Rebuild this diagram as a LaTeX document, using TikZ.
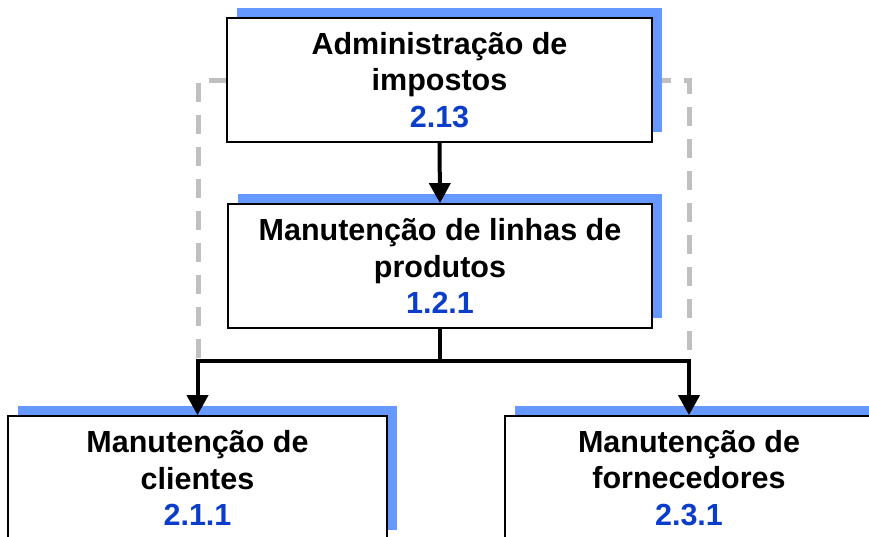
\documentclass[tikz,border=0pt]{standalone}
\usepackage{fontspec}
\setmainfont{Liberation Sans}
\usetikzlibrary{shadows,arrows.meta}
\definecolor{shadowblue}{HTML}{6699FF}
\definecolor{numblue}{HTML}{0A3DCC}
\definecolor{dashgray}{HTML}{C0C0C0}
\begin{document}
\begin{tikzpicture}[x=1pt,y=-1pt,
  box/.style={draw=black, line width=1.8pt, fill=white, align=center,
    font=\bfseries\fontsize{30.5}{36.7}\selectfont, inner sep=0pt,
    minimum height=124pt,
    general shadow={fill=shadowblue, shadow xshift=9.5pt, shadow yshift=10.5pt}},
  conn/.style={line width=4pt, -{Triangle[length=20pt,width=21pt]}},
  plainconn/.style={line width=4pt},
  dashconn/.style={draw=dashgray, line width=5pt, dash pattern=on 19pt off 13pt}]
\useasboundingbox (0,0) rectangle (869,536);
\clip (0,0) rectangle (869,536);
% invisible helpers for positions
\coordinate (split) at (440,361);
\coordinate (dl) at (198,361);
\coordinate (dr) at (689,361);
% dashed links (behind the boxes)
\coordinate (admw) at (227.5,80);
\coordinate (adme) at (652,80);
\draw[dashconn] (admw) -| (dl);
\draw[dashconn] (adme) -| (dr);
% boxes
\node[box, minimum width=425pt] (adm) at (439.5,80) {Administração de\\impostos\\\textcolor{numblue}{2.13}};
\node[box, minimum width=424pt] (lin) at (440,266) {Manutenção de linhas de\\produtos\\\textcolor{numblue}{1.2.1}};
\node[box, minimum width=379pt] (cli) at (197.5,478) {Manutenção de\\clientes\\\textcolor{numblue}{2.1.1}};
\node[box, minimum width=368pt] (for) at (689,478) {Manutenção de\\fornecedores\\\textcolor{numblue}{2.3.1}};
% connectors
\draw[conn] (adm.south) -- (lin.north);
\draw[plainconn] (lin.south) -- (split);
\draw[conn] (split) -| (cli.north);
\draw[conn] (split) -| (for.north);
\end{tikzpicture}
\end{document}
